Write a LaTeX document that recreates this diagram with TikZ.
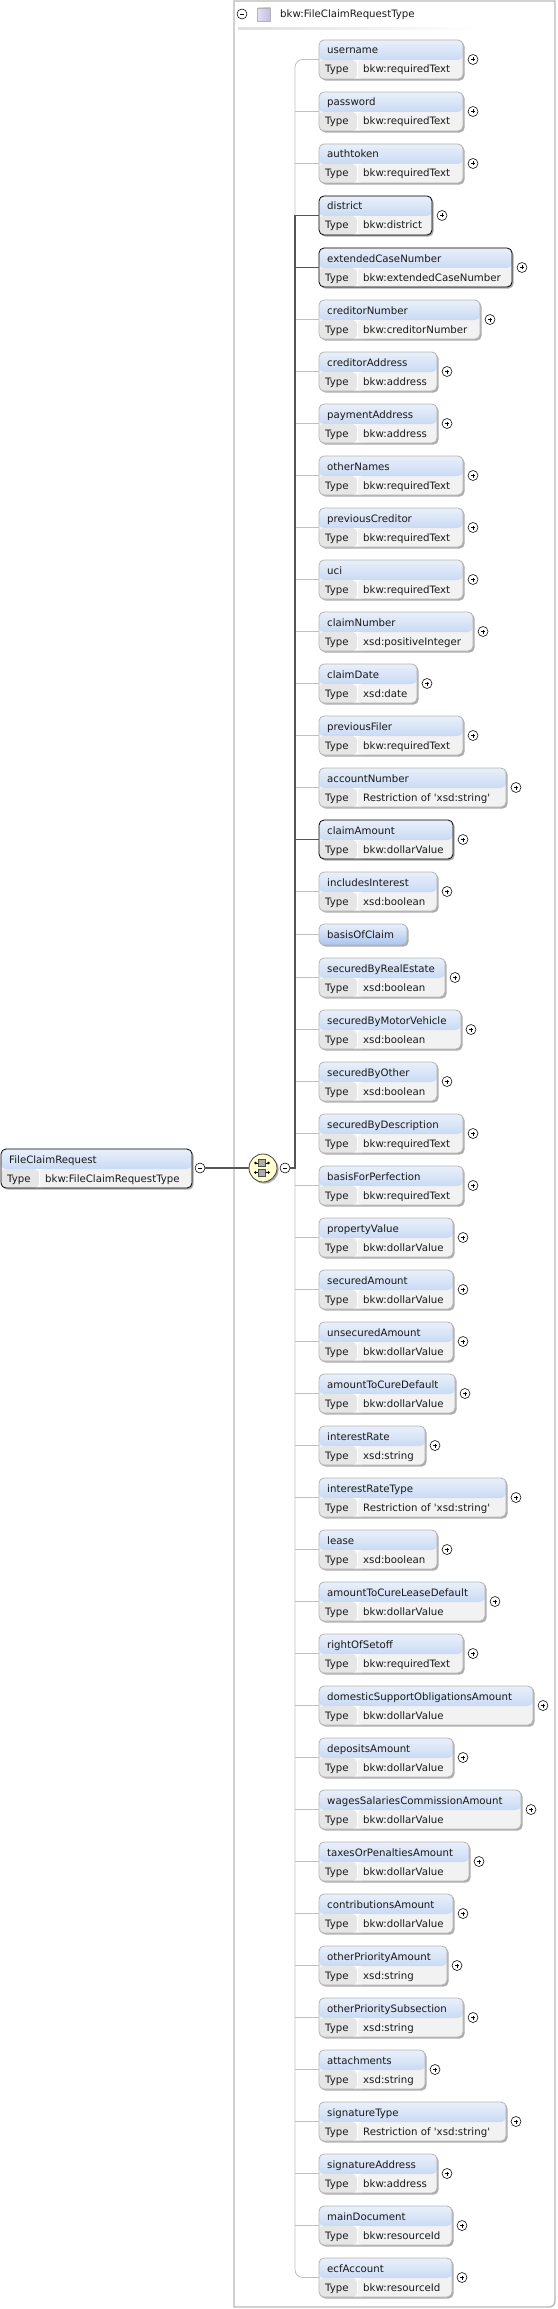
\documentclass[tikz,border=0pt]{standalone}
\usepackage{fontspec}
\usepackage{tikz}
\usepackage{xcolor}
\usetikzlibrary{arrows.meta,calc,positioning,shadows}
\newfontfamily\xsdfont{DejaVu Sans}
\definecolor{XsdEdge}{HTML}{B4B4B4}
\definecolor{XsdShadow}{HTML}{ACACAC}
\definecolor{XsdBlueTop}{HTML}{EAF0FA}
\definecolor{XsdBlueLow}{HTML}{ABC5EF}
\definecolor{XsdType}{HTML}{E6E6E6}
\definecolor{XsdValue}{HTML}{F2F2F2}
\definecolor{XsdWire}{HTML}{C0C0C0}
\definecolor{XsdDark}{HTML}{555555}
\definecolor{XsdFrame}{HTML}{B8B8B8}
\definecolor{XsdCream}{HTML}{FFFFD0}
\definecolor{XsdLilac}{HTML}{C4B8E6}
\tikzset{
  boxbase/.style={rounded corners=5pt, anchor=west, minimum height=39pt, inner sep=0pt, outer sep=0pt, line width=.8pt, fill=XsdValue,
    copy shadow={shadow xshift=1.6pt, shadow yshift=-1.6pt, fill=XsdShadow, draw=none},
    path picture={
      \shade[top color=XsdBlueTop, bottom color=XsdBlueLow] (path picture bounding box.north west) rectangle ([yshift=-20pt]path picture bounding box.north east);
      \fill[XsdType] ([yshift=-20pt]path picture bounding box.north west) rectangle ([xshift=38pt]path picture bounding box.south west);
      \fill[white] ([xshift=38pt,yshift=-20pt]path picture bounding box.north west) rectangle ([xshift=38.8pt]path picture bounding box.south west);
    }},
  boxopt/.style={boxbase, draw=XsdEdge},
  boxreq/.style={boxbase, draw=black},
  boxsolo/.style={rounded corners=5pt, anchor=west, minimum height=21pt, inner sep=0pt, outer sep=0pt, line width=.8pt, draw=XsdEdge,
    top color=XsdBlueTop, bottom color=XsdBlueLow,
    copy shadow={shadow xshift=1.6pt, shadow yshift=-1.6pt, fill=XsdShadow, draw=none}},
  xsdtext/.style={anchor=base west, inner sep=0pt, font=\xsdfont\fontsize{10.2}{12}\selectfont, text=black!90},
  plusmark/.style={circle, draw=black, fill=white, line width=.55pt, minimum size=10pt, inner sep=0pt,
    path picture={
      \draw[line width=.5pt] ([xshift=-2pt]path picture bounding box.center) -- ([xshift=2pt]path picture bounding box.center);
      \draw[line width=.5pt] ([yshift=-2pt]path picture bounding box.center) -- ([yshift=2pt]path picture bounding box.center);
    }},
  minusmark/.style={circle, draw=black, fill=white, line width=.55pt, minimum size=10pt, inner sep=0pt,
    path picture={
      \draw[line width=.5pt] ([xshift=-2pt]path picture bounding box.center) -- ([xshift=2pt]path picture bounding box.center);
    }},
  wireopt/.style={draw=XsdWire, line width=.8pt},
  wirereq/.style={draw=XsdDark, line width=1.5pt},
  seqcell/.style={draw=black!70, fill=gray!65, minimum size=7pt, inner sep=0pt, line width=.5pt}
}
\begin{document}
\begin{tikzpicture}[x=1pt,y=-1pt]
  \useasboundingbox (0,0) rectangle (557,2309);
  % type frame
  \draw[XsdFrame, line width=1.4pt] (234,1) -- (555,1) [rounded corners=6pt] -- (555,2307) [sharp corners] -- (234,2307) -- cycle;
  \node[minusmark] (frameminus) at (242,14) {};
  \node[draw=XsdEdge, left color=XsdLilac!45, right color=XsdLilac, minimum size=13pt, inner sep=0pt, line width=.6pt] (frameicon) at (264,14.5) {};
  \node[xsdtext] (frametitle) at (280,18) {bkw:FileClaimRequestType};
  \shade[left color=gray!25, right color=white] (238,27.5) rectangle (478,30);
  \coordinate (trunk) at (295,59);
  % elements
  \foreach \nm/\typ/\rgt/\cy/\kind in {
    username/bkw:requiredText/463/59/opt, password/bkw:requiredText/463/111/opt, authtoken/bkw:requiredText/463/163/opt,
    district/bkw:district/432/215/req, extendedCaseNumber/bkw:extendedCaseNumber/512/267/req,
    creditorNumber/bkw:creditorNumber/480/319/opt, creditorAddress/bkw:address/437/371/opt, paymentAddress/bkw:address/437/423/opt,
    otherNames/bkw:requiredText/463/475/opt, previousCreditor/bkw:requiredText/463/527/opt, uci/bkw:requiredText/463/579/opt,
    claimNumber/xsd:positiveInteger/473/631/opt, claimDate/xsd:date/417/683/opt, previousFiler/bkw:requiredText/463/735/opt,
    accountNumber/Restriction of 'xsd:string'/506/787/opt, claimAmount/bkw:dollarValue/453/839/req,
    includesInterest/xsd:boolean/437/891/opt, securedByRealEstate/xsd:boolean/445/977/opt,
    securedByMotorVehicle/xsd:boolean/461/1029/opt, securedByOther/xsd:boolean/437/1081/opt,
    securedByDescription/bkw:requiredText/463/1133/opt, basisForPerfection/bkw:requiredText/463/1185/opt,
    propertyValue/bkw:dollarValue/453/1237/opt, securedAmount/bkw:dollarValue/453/1289/opt, unsecuredAmount/bkw:dollarValue/453/1341/opt,
    amountToCureDefault/bkw:dollarValue/455/1393/opt, interestRate/xsd:string/425/1445/opt,
    interestRateType/Restriction of 'xsd:string'/506/1497/opt, lease/xsd:boolean/437/1549/opt,
    amountToCureLeaseDefault/bkw:dollarValue/485/1601/opt, rightOfSetoff/bkw:requiredText/463/1653/opt,
    domesticSupportObligationsAmount/bkw:dollarValue/533/1705/opt, depositsAmount/bkw:dollarValue/453/1757/opt,
    wagesSalariesCommissionAmount/bkw:dollarValue/521/1809/opt, taxesOrPenaltiesAmount/bkw:dollarValue/469/1861/opt,
    contributionsAmount/bkw:dollarValue/453/1913/opt, otherPriorityAmount/xsd:string/447/1965/opt,
    otherPrioritySubsection/xsd:string/463/2017/opt, attachments/xsd:string/425/2069/opt,
    signatureType/Restriction of 'xsd:string'/506/2121/opt, signatureAddress/bkw:address/437/2173/opt,
    mainDocument/bkw:resourceId/452/2225/opt, ecfAccount/bkw:resourceId/452/2277/opt} {
    \pgfmathsetmacro\boxw{\rgt-319}
    \node[box\kind, minimum width=\boxw pt] (\nm) at (319,\cy+0.5) {};
    \node[xsdtext] (\nm-name) at ([xshift=8pt,yshift=5.5pt]\nm.west) {\nm};
    \node[xsdtext] (\nm-label) at ([xshift=6pt,yshift=-13.5pt]\nm.west) {Type};
    \node[xsdtext] (\nm-type) at ([xshift=44pt,yshift=-13.5pt]\nm.west) {\typ};
    \node[plusmark] (\nm-plus) at ([xshift=10pt]\nm.east) {};
  }
  \node[boxsolo, minimum width=88pt] (basisOfClaim) at (319,934.5) {};
  \node[xsdtext] (basisOfClaim-name) at ([xshift=8pt,yshift=-3.5pt]basisOfClaim.west) {basisOfClaim};
  % root element and sequence
  \node[boxreq, minimum width=191pt] (root) at (1,1168.5) {};
  \node[xsdtext] (root-name) at ([xshift=8pt,yshift=5.5pt]root.west) {FileClaimRequest};
  \node[xsdtext] (root-label) at ([xshift=6pt,yshift=-13.5pt]root.west) {Type};
  \node[xsdtext] (root-type) at ([xshift=44pt,yshift=-13.5pt]root.west) {bkw:FileClaimRequestType};
  \node[minusmark] (rootminus) at (200,1168) {};
  \node[circle, draw=black!75, fill=XsdCream, minimum size=28pt, inner sep=0pt, line width=.8pt, copy shadow={shadow xshift=1.6pt, shadow yshift=-1.6pt, fill=XsdShadow, draw=none}] (seq) at (263,1168) {};
  \node[seqcell] (seqtop) at (262,1163) {};
  \node[seqcell] (seqlow) at (262,1172.5) {};
  \foreach \cell in {seqtop,seqlow} {
    \draw[{Circle[length=2.5pt]}-, line width=.7pt] ([xshift=-4pt]\cell.west) -- (\cell.west);
    \draw[-{Circle[length=2.5pt]}, line width=.7pt] (\cell.east) -- ([xshift=4pt]\cell.east);
  }
  \node[minusmark] (seqminus) at (285,1168) {};
  % connectors
  \draw[wireopt, rounded corners=8pt] (username.west) -- (username.west -| trunk) -- (ecfAccount.west -| trunk) -- (ecfAccount.west);
  \foreach \nm in {password,authtoken,creditorNumber,creditorAddress,paymentAddress,otherNames,previousCreditor,uci,claimNumber,claimDate,previousFiler,accountNumber,includesInterest,basisOfClaim,securedByRealEstate,securedByMotorVehicle,securedByOther,securedByDescription,basisForPerfection,propertyValue,securedAmount,unsecuredAmount,amountToCureDefault,interestRate,interestRateType,lease,amountToCureLeaseDefault,rightOfSetoff,domesticSupportObligationsAmount,depositsAmount,wagesSalariesCommissionAmount,taxesOrPenaltiesAmount,contributionsAmount,otherPriorityAmount,otherPrioritySubsection,attachments,signatureType,signatureAddress,mainDocument}
    \draw[wireopt] (\nm.west -| trunk) -- (\nm.west);
  \draw[wirereq] (seqminus.east) -- (seqminus.east -| trunk) -- (district.west -| trunk) -- (district.west);
  \draw[wirereq] (extendedCaseNumber.west -| trunk) -- (extendedCaseNumber.west);
  \draw[wirereq] (claimAmount.west -| trunk) -- (claimAmount.west);
  \draw[wirereq] (rootminus.east) -- (seq.west);
\end{tikzpicture}
\end{document}
